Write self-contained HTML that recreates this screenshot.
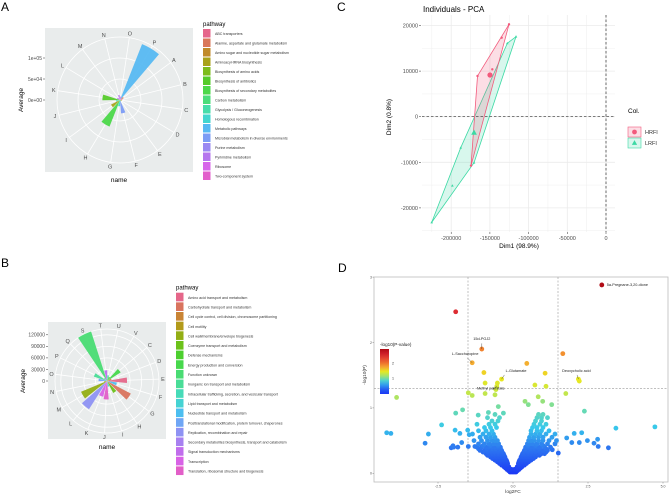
<!DOCTYPE html>
<html><head><meta charset="utf-8">
<style>
html,body{margin:0;padding:0;background:#fff;}
svg{display:block;font-family:"Liberation Sans",sans-serif;}
</style></head>
<body>
<svg id="fig" width="669" height="497" viewBox="0 0 669 497" xmlns="http://www.w3.org/2000/svg">
<text x="1" y="11" font-size="12">A</text>
<text x="1" y="267" font-size="12">B</text>
<text x="337" y="11" font-size="12">C</text>
<text x="338" y="272" font-size="12">D</text>
<g id="pa"></g>
<g id="pb"></g>
<g id="pc"></g>
<g id="pd"></g>
</svg>
<script>
// ---------- Panel A data ----------
const aCats = ['A','B','C','D','E','F','G','H','I','J','K','L','M','N','O','P'];
const aValues = [10000,6000,5000,3000,4000,32000,15000,68000,24000,10000,42000,8000,6000,12000,8000,143000];
const aColorIdx = [1,0,2,4,7,11,9,6,3,8,5,12,15,13,14,10];
const aPathways = ['ABC transporters','Alanine, aspartate and glutamate metabolism','Amino sugar and nucleotide sugar metabolism','Aminoacyl-tRNA biosynthesis','Biosynthesis of amino acids','Biosynthesis of antibiotics','Biosynthesis of secondary metabolites','Carbon metabolism','Glycolysis / Gluconeogenesis','Homologous recombination','Metabolic pathways','Microbial metabolism in diverse environments','Purine metabolism','Pyrimidine metabolism','Ribosome','Two-component system'];
const aTicks = [0,50000,100000];
const aTickLabels = ['0e+00','5e+04','1e+05'];
const aColors = ['#E5668B','#D9775A','#C08A2A','#A8A21A','#7DBC1C','#55CB2B','#4CD84A','#4BDD7A','#47DDAA','#43D6CF','#57B9F2','#7C9CF5','#9A88F2','#B576EE','#D766EA','#E25FCB'];

// ---------- Panel B data ----------
const bCats = ['C','D','E','F','G','H','I','J','K','L','M','N','O','P','Q','S','T','U','V'];
const bValues = [42000,12000,52000,26000,70000,35000,15000,48000,42000,87000,73000,8000,22000,36000,10000,135000,28000,15000,12000];
const bColorIdx = [7,2,0,12,1,5,11,18,17,14,4,3,13,9,15,8,16,10,6];
const bPathways = ['Amino acid transport and metabolism','Carbohydrate transport and metabolism','Cell cycle control, cell division, chromosome partitioning','Cell motility','Cell wall/membrane/envelope biogenesis','Coenzyme transport and metabolism','Defense mechanisms','Energy production and conversion','Function unknown','Inorganic ion transport and metabolism','Intracellular trafficking, secretion, and vesicular transport','Lipid transport and metabolism','Nucleotide transport and metabolism','Posttranslational modification, protein turnover, chaperones','Replication, recombination and repair','Secondary metabolites biosynthesis, transport and catabolism','Signal transduction mechanisms','Transcription','Translation, ribosomal structure and biogenesis'];
const bTicks = [0,30000,60000,90000,120000];
const bTickLabels = ['0','30000','60000','90000','120000'];
const bColors = ['#E5678A','#D9745E','#C98435','#B29A1A','#93AE14','#6CC21A','#4CCF2E','#47D84C','#49DC73','#49DD97','#46DBB8','#45D3D3','#4CBEF0','#6FA6F5','#8E92F3','#A780F0','#C06DEC','#D862E6','#E25EC8'];

// ---------- Panel C data ----------
const hrfiX = [-125300,-134800,-166000,-146900,-174400];
const hrfiY = [20260,17320,8930,10390,-10740];
const hrfiMean = [-149900,9140];
const lrfiX = [-116300,-127500,-187700,-198500,-225200,-170500];
const lrfiY = [17540,16090,-6800,-15130,-23170,-10090];
const lrfiMean = [-170500,-3500];
const cXTicks = [-200000,-150000,-100000,-50000,0];
const cYTicks = [-20000,-10000,0,10000,20000];

// ---------- Panel D data ----------
const volFC = [2.96,-1.91,-1.04,1.66,-1.36,0.46,-0.97,1.07,-0.38,2.18,2.21,-0.93,-0.52,-0.54,0.73,1.10,1.76,-3.88,-1.49,-1.36,-0.93,-0.57,-0.60,0.84,0.99,1.29,0.40,0.51,2.38,-1.68,-1.91,-1.16,-0.82,-0.49,-0.32,-2.38,4.73,3.43,-4.21,-4.07,-2.82,-2.93,-2.0,-2.06,-1.98,3.18,2.84,2.70,2.82,2.48,2.29,2.04,1.79,1.96,2.21,1.51,1.31,-1.93,-1.77,-1.51,-1.46,-1.71,-1.49,-1.84,-1.27,
-0.1,-0.05,0,0.05,0.1,-0.2,-0.12,0.12,0.2,-0.05,0.05,-0.3,-0.22,-0.14,0.14,0.22,0.3,-0.45,-0.35,-0.25,-0.18,0.18,0.25,0.35,0.45,-0.6,-0.5,-0.4,-0.3,-0.22,0.22,0.3,0.4,0.5,0.6,-0.75,-0.65,-0.55,-0.45,-0.35,-0.27,0.27,0.35,0.45,0.55,0.65,0.75,-0.9,-0.8,-0.7,-0.6,-0.5,-0.4,-0.32,0.32,0.4,0.5,0.6,0.7,0.8,0.95,1.05,-1.1,-0.95,-0.85,-0.75,-0.65,-0.55,-0.45,-0.38,0.38,0.45,0.55,0.65,0.75,0.85,1.0,1.15,-1.2,-1.05,-0.9,-0.8,-0.7,-0.6,-0.5,-0.42,0.42,0.5,0.6,0.7,0.8,0.9,1.05,1.25,-1.15,-0.95,-0.8,-0.65,-0.55,-0.48,0.48,0.55,0.65,0.8,0.95,1.15,1.4,-1.3,-1.05,-0.85,-0.7,-0.6,-0.52,0.52,0.6,0.7,0.85,1.0,1.2,1.45,-1.1,-0.9,-0.75,-0.6,0.55,0.7,0.85,1.0,1.3,-1.35,-1.0,-0.8,-0.65,0.6,0.75,0.9,1.1,1.4,-1.15,-0.9,-0.7,0.6,0.8,0.95,1.2,-0.95,-0.75,-0.55,0.65,0.8,1.0,-1.2,-0.8,-0.6,0.7,0.9,1.1,-0.7,-0.5,0.75,0.95,-0.85,-0.45,0.8,0.95,1.15,-0.6,0.85,1.0,
-0.15,0.15,-0.25,-0.17,0.17,0.25,-0.38,-0.3,-0.2,0.2,0.3,0.38,-0.52,-0.42,-0.3,-0.2,0.2,0.3,0.42,0.52,-0.68,-0.56,-0.45,-0.35,-0.26,0.26,0.35,0.45,0.56,0.68,-0.85,-0.72,-0.6,-0.5,-0.4,-0.3,0.3,0.4,0.5,0.6,0.72,0.88,-1.0,-0.85,-0.72,-0.62,-0.5,-0.36,0.36,0.5,0.62,0.75,0.9,1.1,-1.15,-0.88,-0.7,-0.58,-0.42,0.42,0.58,0.7,0.88,1.1,-1.0,-0.75,-0.5,0.5,0.75,1.0];
const volP = [2.88,2.47,1.90,1.83,1.69,1.68,1.54,1.53,1.44,1.44,1.41,1.38,1.38,1.33,1.35,1.33,1.22,1.16,1.23,1.19,1.22,1.28,1.20,1.17,1.10,1.05,1.10,1.05,0.95,0.97,0.92,0.89,0.93,1.02,0.92,0.74,0.71,0.69,0.62,0.61,0.60,0.46,0.42,0.39,0.40,0.39,0.41,0.46,0.52,0.50,0.62,0.61,0.54,0.47,0.47,0.31,0.36,0.66,0.61,0.66,0.59,0.47,0.41,0.40,0.41,
0.02,0.02,0.02,0.02,0.02,0.06,0.06,0.06,0.06,0.06,0.06,0.1,0.1,0.1,0.1,0.1,0.1,0.15,0.15,0.15,0.15,0.15,0.15,0.15,0.15,0.2,0.2,0.2,0.2,0.2,0.2,0.2,0.2,0.2,0.2,0.25,0.25,0.25,0.25,0.25,0.25,0.25,0.25,0.25,0.25,0.25,0.25,0.3,0.3,0.3,0.3,0.3,0.3,0.3,0.3,0.3,0.3,0.3,0.3,0.3,0.3,0.3,0.35,0.35,0.35,0.35,0.35,0.35,0.35,0.35,0.35,0.35,0.35,0.35,0.35,0.35,0.35,0.35,0.4,0.4,0.4,0.4,0.4,0.4,0.4,0.4,0.4,0.4,0.4,0.4,0.4,0.4,0.4,0.4,0.45,0.45,0.45,0.45,0.45,0.45,0.45,0.45,0.45,0.45,0.45,0.45,0.45,0.5,0.5,0.5,0.5,0.5,0.5,0.5,0.5,0.5,0.5,0.5,0.5,0.5,0.55,0.55,0.55,0.55,0.55,0.55,0.55,0.55,0.55,0.6,0.6,0.6,0.6,0.6,0.6,0.6,0.6,0.6,0.65,0.65,0.65,0.65,0.65,0.65,0.65,0.7,0.7,0.7,0.7,0.7,0.7,0.75,0.75,0.75,0.75,0.75,0.75,0.8,0.8,0.8,0.8,0.85,0.85,0.85,0.85,0.85,0.9,0.9,0.9,
0.04,0.04,0.08,0.08,0.08,0.08,0.125,0.125,0.125,0.125,0.125,0.125,0.175,0.175,0.175,0.175,0.175,0.175,0.175,0.175,0.225,0.225,0.225,0.225,0.225,0.225,0.225,0.225,0.225,0.225,0.275,0.275,0.275,0.275,0.275,0.275,0.275,0.275,0.275,0.275,0.275,0.275,0.325,0.325,0.325,0.325,0.325,0.325,0.325,0.325,0.325,0.325,0.325,0.325,0.375,0.375,0.375,0.375,0.375,0.375,0.375,0.375,0.375,0.375,0.425,0.425,0.425,0.425,0.425,0.425];
const volLabels = ['5a-Pregnane-3,20-dione','15d-PGJ2','L-Saccharopine','L-Glutamate','Deoxycholic acid','Methyl palmitate'];
const volLabelIdx = [0,2,4,8,9,13];
const dXTicks = [-2.5,0,2.5,5];
const dXTickLabels = ['-2.5','0.0','2.5','5.0'];
const dYTicks = [0,1,2,3];

const NS='http://www.w3.org/2000/svg';
function mk(parent,tag,attrs,text){const e=document.createElementNS(NS,tag);for(const k in attrs)e.setAttribute(k,attrs[k]);if(text!==undefined)e.textContent=text;parent.appendChild(e);return e;}
function pt(cx,cy,r,deg){const a=deg*Math.PI/180;return [cx+r*Math.sin(a),cy-r*Math.cos(a)];}
function wedge(cx,cy,r,a0,a1){const p0=pt(cx,cy,r,a0),p1=pt(cx,cy,r,a1);return `M${cx},${cy}L${p0[0]},${p0[1]}A${r},${r} 0 0 1 ${p1[0]},${p1[1]}Z`;}

function rose(g,o){
  const bg=mk(g,'rect',{x:o.bx,y:o.by,width:o.bw,height:o.bh,fill:'#e9ecec'});
  
  
  const n=o.cats.length,step=360/n;
  const rs=v=>v*o.scale;
  o.ticks.forEach((t,i)=>{
    if(t>0){const c=mk(g,'circle',{cx:o.cx,cy:o.cy,r:rs(t),fill:'none',stroke:'#fff','stroke-width':0.8});
      
      }
  });
  const oc=mk(g,'circle',{cx:o.cx,cy:o.cy,r:o.outer,fill:'none',stroke:'#fff','stroke-width':0.8});
  
  
  o.cats.forEach((c,i)=>{
    const a=o.start+i*step;const p=pt(o.cx,o.cy,o.outer,a);
    const l=mk(g,'line',{x1:o.cx,y1:o.cy,x2:p[0],y2:p[1],stroke:'#fff','stroke-width':0.8});
    
    
    const q=pt(o.cx,o.cy,o.outer+4,a);
    const t=mk(g,'text',{x:q[0],y:q[1]+2,'font-size':5.5,fill:'#4d4d4d','text-anchor':'middle'},c);
    
    
  });
  o.cats.forEach((c,i)=>{
    const a=o.start+i*step,hw=step*0.42;
    const w=mk(g,'path',{d:wedge(o.cx,o.cy,rs(o.values[i]),a-hw,a+hw),fill:o.colors[o.cidx[i]],'fill-opacity':0.95});
    
    
  });
  o.ticks.forEach((t,i)=>{
    const y=o.cy-rs(t);
    mk(g,'line',{x1:o.bx-2,y1:y,x2:o.bx,y2:y,stroke:'#333','stroke-width':0.5});
    const tl=mk(g,'text',{x:o.bx-3,y:y+1.8,'font-size':5,fill:'#4d4d4d','text-anchor':'end'},o.tickLabels[i]);
    
    
  });
  const yt=mk(g,'text',{x:o.ytx,y:o.cy,'font-size':6.5,'text-anchor':'middle',transform:`rotate(-90 ${o.ytx} ${o.cy})`},'Average');
  
  
  const xt=mk(g,'text',{x:o.bx+o.bw/2,y:o.by+o.bh+10,'font-size':6.5,'text-anchor':'middle'},'name');
  
  
  const lt=mk(g,'text',{x:o.lx,y:o.ly-3,'font-size':6},'pathway');
  
  
  o.pathways.forEach((p,i)=>{
    const y=o.ly+i*o.lstep;
    const r=mk(g,'rect',{x:o.lx,y:y,width:7.5,height:o.lstep-1,fill:o.colors[i]});
    
    
    const t=mk(g,'text',{x:o.lx+12,y:y+o.lstep/2+1.3,'font-size':3.6,fill:'#333'},p);
    
    
  });
}
rose(document.getElementById('pa'),{bx:45,by:28,bw:148,bh:144,cx:120,cy:100,outer:63,scale:42/100000,start:53.5,cats:aCats,values:aValues,cidx:aColorIdx,colors:aColors,ticks:aTicks,tickLabels:aTickLabels,ytx:23,lx:203,ly:29,lstep:9.5,pathways:aPathways});
rose(document.getElementById('pb'),{bx:48,by:322,bw:118,bh:117,cx:107,cy:381,outer:52,scale:11.55/30000,start:50,cats:bCats,values:bValues,cidx:bColorIdx,colors:bColors,ticks:bTicks,tickLabels:bTickLabels,ytx:25,lx:176,ly:292.7,lstep:9.65,pathways:bPathways});

// ---------- Panel C ----------
(function(){
  const g=document.getElementById('pc');
  const X=v=>606+v/50000*38.7, Y=v=>116.7-v/10000*45.6;
  const L=422,R=615,T=15,B=232;
  for(let v=-225000;v<=0;v+=25000){const x=X(v);const l=mk(g,'line',{x1:x,y1:T,x2:x,y2:B,stroke:'#ebebeb','stroke-width':(v%50000===0)?0.8:0.4});
    
    }
  for(let v=-25000;v<=20000;v+=5000){const y=Y(v);const l=mk(g,'line',{x1:L,y1:y,x2:R,y2:y,stroke:'#ebebeb','stroke-width':(v%10000===0)?0.8:0.4});
    
    }
  function hull(xs,ys){const p=xs.map((x,i)=>[x,ys[i]]).sort((a,b)=>a[0]-b[0]||a[1]-b[1]);
    const cr=(o,a,b)=>(a[0]-o[0])*(b[1]-o[1])-(a[1]-o[1])*(b[0]-o[0]);const lo=[],up=[];
    for(const q of p){while(lo.length>=2&&cr(lo[lo.length-2],lo[lo.length-1],q)<=0)lo.pop();lo.push(q);}
    for(const q of p.slice().reverse()){while(up.length>=2&&cr(up[up.length-2],up[up.length-1],q)<=0)up.pop();up.push(q);}
    return lo.slice(0,-1).concat(up.slice(0,-1));}
  const groups=[{xs:lrfiX,ys:lrfiY,m:lrfiMean,c:'#3cd9a4',n:'lrfi',tri:true},{xs:hrfiX,ys:hrfiY,m:hrfiMean,c:'#f25a7c',n:'hrfi',tri:false}];
  groups.forEach(gr=>{
    const h=hull(gr.xs,gr.ys);
    const poly=mk(g,'polygon',{points:h.map(p=>X(p[0])+','+Y(p[1])).join(' '),fill:gr.c,'fill-opacity':0.2,stroke:gr.c,'stroke-width':0.8});
    
    
  });
  const h0=mk(g,'line',{x1:L,y1:Y(0),x2:R,y2:Y(0),stroke:'#333','stroke-width':0.7,'stroke-dasharray':'2.5,2'});
  
  
  const v0=mk(g,'line',{x1:X(0),y1:T,x2:X(0),y2:B,stroke:'#333','stroke-width':0.7,'stroke-dasharray':'2.5,2'});
  
  
  function marker(x,y,r,c,tri,name){let e;
    if(tri){e=mk(g,'polygon',{points:`${x},${y-r*1.2} ${x-r*1.1},${y+r*0.8} ${x+r*1.1},${y+r*0.8}`,fill:c});}
    else e=mk(g,'circle',{cx:x,cy:y,r:r,fill:c});
    
    }
  groups.forEach(gr=>{
    gr.xs.forEach((v,i)=>marker(X(v),Y(gr.ys[i]),1.2,gr.c,gr.tri,gr.n+'-point'));
    marker(X(gr.m[0]),Y(gr.m[1]),2.6,gr.c,gr.tri,gr.n+'-centroid');
  });
  cXTicks.forEach(v=>{const x=X(v);mk(g,'line',{x1:x,y1:B,x2:x,y2:B+2,stroke:'#333','stroke-width':0.5});
    const t=mk(g,'text',{x:x,y:B+8,'font-size':5.5,fill:'#4d4d4d','text-anchor':'middle'},String(v));
    
    });
  cYTicks.forEach(v=>{const y=Y(v);mk(g,'line',{x1:L-3,y1:y,x2:L-1,y2:y,stroke:'#333','stroke-width':0.5});
    const t=mk(g,'text',{x:L-4,y:y+2,'font-size':5.5,fill:'#4d4d4d','text-anchor':'end'},String(v));
    
    });
  const ti=mk(g,'text',{x:423,y:12,'font-size':8},'Individuals - PCA');
  
  
  const xt=mk(g,'text',{x:519,y:248,'font-size':6.5,'text-anchor':'middle'},'Dim1 (98.9%)');
  
  
  const yt=mk(g,'text',{x:391,y:117,'font-size':6.5,'text-anchor':'middle',transform:'rotate(-90 391 117)'},'Dim2 (0.8%)');
  
  
  const lt=mk(g,'text',{x:628,y:113,'font-size':6.5},'Col.');
  
  
  [['HRFI','#f25a7c',false,127],['LRFI','#3cd9a4',true,138]].forEach(e=>{
    const r=mk(g,'rect',{x:628,y:e[3],width:13,height:10,fill:e[1],'fill-opacity':0.2,stroke:e[1],'stroke-width':0.6});
    
    
    marker(634.5,e[3]+5,2.4,e[1],e[2],'legend-marker-'+e[0].toLowerCase());
    const t=mk(g,'text',{x:645,y:e[3]+7,'font-size':5.5,fill:'#333'},e[0]);
    
    
  });
})();

// ---------- Panel D ----------
(function(){
  const g=document.getElementById('pd');
  const X=v=>513+v*30, Y=v=>473.3-v*65.4;
  const L=374,R=668,T=277,B=482;
  const fr=mk(g,'rect',{x:L,y:T,width:R-L,height:B-T,fill:'#fff',stroke:'#bdbdbd','stroke-width':0.8});
  
  
  const stops=[[0,[27,55,245]],[0.4,[45,120,240]],[0.7,[55,200,235]],[1.0,[110,220,170]],[1.2,[190,230,80]],[1.45,[235,232,30]],[1.7,[245,170,50]],[1.95,[240,120,45]],[2.5,[220,40,50]],[2.9,[175,10,20]]];
  function col(p){if(p<=stops[0][0])return `rgb(${stops[0][1]})`;for(let i=1;i<stops.length;i++){if(p<=stops[i][0]){const a=stops[i-1],b=stops[i],t=(p-a[0])/(b[0]-a[0]);return 'rgb('+a[1].map((c,k)=>Math.round(c+(b[1][k]-c)*t)).join(',')+')';}}return `rgb(${stops[stops.length-1][1]})`;}
  [-1.5,1.5].forEach(v=>{const l=mk(g,'line',{x1:X(v),y1:T,x2:X(v),y2:B,stroke:'#999','stroke-width':0.6,'stroke-dasharray':'2,1.5'});
    
    });
  const hl=mk(g,'line',{x1:L,y1:Y(1.3),x2:R,y2:Y(1.3),stroke:'#999','stroke-width':0.6,'stroke-dasharray':'2,1.5'});
  
  
  const idx=volP.map((p,i)=>i).sort((a,b)=>volP[a]-volP[b]);
  idx.forEach(i=>{const c=mk(g,'circle',{cx:X(volFC[i]),cy:Y(volP[i]),r:2.4,fill:col(volP[i])});
    
    });
  const offs=[[5,0,'start'],[0,-8,'middle'],[-7,-7,'middle'],[4,-6,'start'],[-2,-6,'middle'],[-6,4,'middle']];
  volLabels.forEach((s,k)=>{const i=volLabelIdx[k];const x=X(volFC[i]),y=Y(volP[i]);const o=offs[k];
    if(k>0){const l=mk(g,'line',{x1:x,y1:y,x2:x+o[0]*0.7,y2:y+o[1]*0.7,stroke:'#333','stroke-width':0.4});
      
      }
    const t=mk(g,'text',{x:x+o[0],y:y+o[1]-(k>0?1:-1.3),'font-size':3.8,fill:'#222','text-anchor':o[2]},s);
    
    });
  dXTicks.forEach((v,i)=>{const x=X(v);mk(g,'line',{x1:x,y1:B,x2:x,y2:B+1.5,stroke:'#666','stroke-width':0.4});
    const t=mk(g,'text',{x:x,y:B+5.5,'font-size':3.5,fill:'#555','text-anchor':'middle'},dXTickLabels[i]);
    
    });
  dYTicks.forEach(v=>{const y=Y(v);mk(g,'line',{x1:L-1.5,y1:y,x2:L,y2:y,stroke:'#666','stroke-width':0.4});
    const t=mk(g,'text',{x:L-2,y:y+1.3,'font-size':3.5,fill:'#555','text-anchor':'end'},String(v));
    
    });
  const xt=mk(g,'text',{x:513,y:493,'font-size':4.8,'text-anchor':'middle',fill:'#333'},'log2FC');
  
  
  const yt=mk(g,'text',{x:366,y:375,'font-size':4.8,'text-anchor':'middle',fill:'#333',transform:'rotate(-90 366 375)'},'-log10(P)');
  
  
  const defs=mk(g,'defs',{});
  const lg=mk(defs,'linearGradient',{id:'cb',x1:0,y1:1,x2:0,y2:0});
  for(let k=0;k<=10;k++){const p=-0.07+k*0.3;mk(lg,'stop',{offset:k/10,'stop-color':col(p)});}
  const lt=mk(g,'text',{x:380,y:346,'font-size':4.6,fill:'#222'},'-log10(P-value)');
  
  
  const cb=mk(g,'rect',{x:380,y:349,width:9,height:45,fill:'url(#cb)'});
  
  
  [[2,363],[1,378]].forEach(e=>{const t=mk(g,'text',{x:392,y:e[1]+1.3,'font-size':3.6,fill:'#333'},String(e[0]));
    
    });
})();
</script>
</body></html>
